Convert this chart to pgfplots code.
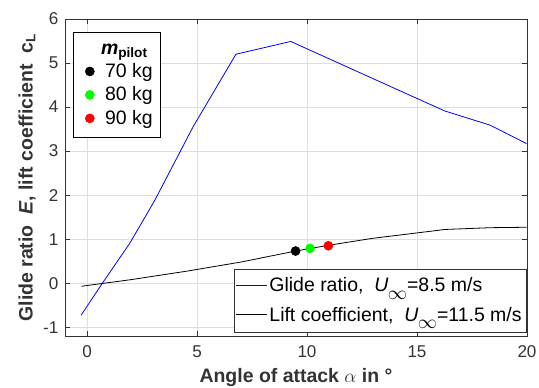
\documentclass[border=0pt]{standalone}
\usepackage{pgfplots}
\pgfplotsset{compat=1.18}
\usepackage{fontspec}
\setmainfont{Liberation Sans}
\begin{document}
\begin{tikzpicture}
\pgfplotsset{
 common/.style={width=346.5pt,height=237.75pt,scale only axis,
   at={(0pt,0pt)}, anchor=south west,
   xmin=-1,xmax=20,ymin=-1.2,ymax=6},
}
\path[use as bounding box] (-48.75pt,-38.25pt) rectangle (355.5pt,252pt);
\begin{axis}[common,
 xtick={0,5,10,15,20}, ytick={-1,0,1,2,3,4,5,6},
 grid=major, grid style={black!13, line width=0.5pt},
 axis line style={black!80}, tick style={black!80, line width=0.5pt},
 tick align=inside, tick pos=both, major tick length=3.5pt,
 ticklabel style={font=\fontsize{12.8}{15}\selectfont, text=black!80},
 xticklabel style={yshift=-3.5pt},
 yticklabel style={xshift=-1.5pt},
 /pgf/number format/assume math mode=true,
 xlabel={\textbf{Angle of attack $\alpha$ in °}},
 ylabel={\textbf{Glide ratio \ \textit{E}, lift coefficient \ c\textsubscript{L}}},
 label style={font=\fontsize{14.6}{17}\selectfont, text=black!80},
 xlabel style={at={(axis description cs:0.5,0)}, anchor=center, yshift=-31pt},
 ylabel style={at={(axis description cs:-0.0823,0.5)}, anchor=center},
 legend style={at={(rel axis cs:0.999,0.012)}, anchor=south east,
   draw=black!80, font=\fontsize{14.6}{17}\selectfont,
   inner xsep=1.5pt, inner ysep=4.5pt, row sep=6pt},
 legend cell align=left,
]
\addplot[color=blue, line width=0.6pt,
  legend image code/.code={\node[anchor=west, inner sep=0pt, text=blue] at (0cm,0cm) {\rule[-0.3pt]{0.81cm}{0.6pt}};}]
 coordinates {
 (-0.27,-0.73) (0.7,0.0) (1.95,0.91) (3.09,1.89) (4.82,3.55) (6.77,5.20)
 (9.26,5.49) (14.98,4.20) (16.27,3.91) (18.32,3.59) (19.98,3.17)
};
\addlegendentry{Glide ratio, \ \textit{U}\kern-0.5pt\raisebox{-0.7ex}{$\infty$}=8.5 m/s}
\addplot[color=black, line width=0.6pt,
  legend image code/.code={\node[anchor=west, inner sep=0pt, text=black] at (0cm,0cm) {\rule[-0.3pt]{0.81cm}{0.6pt}};}]
 coordinates {
 (-0.25,-0.07) (2,0.08) (4.5,0.27) (7,0.48) (9.48,0.73) (10.97,0.86)
 (13,1.02) (14.98,1.14) (16.27,1.22) (18.32,1.26) (19.98,1.27)
};
\addlegendentry{Lift coefficient, \ \textit{U}\kern-0.5pt\raisebox{-0.7ex}{$\infty$}=11.5 m/s}
\end{axis}
\begin{axis}[common, hide axis,
 legend style={at={(rel axis cs:0.017,0.959)}, anchor=north west,
   draw=black, font=\fontsize{14.6}{17}\selectfont,
   inner xsep=4pt, inner ysep=6.5pt, row sep=1.5pt},
 legend cell align=left,
]
\addlegendimage{empty legend}
\addlegendentry{\hspace*{3pt}\textbf{\textit{m}\textsubscript{pilot}}}
\addplot[only marks, mark=*, mark size=3.4pt, black, mark options={fill=black}] coordinates {(9.48,0.73)};
\addlegendentry{\hspace*{6pt}70 kg}
\addplot[only marks, mark=*, mark size=3.4pt, green, mark options={fill=green,draw=green}] coordinates {(10.14,0.79)};
\addlegendentry{\hspace*{6pt}80 kg}
\addplot[only marks, mark=*, mark size=3.4pt, red, mark options={fill=red,draw=red}] coordinates {(10.97,0.85)};
\addlegendentry{\hspace*{6pt}90 kg}
\end{axis}
\end{tikzpicture}
\end{document}
